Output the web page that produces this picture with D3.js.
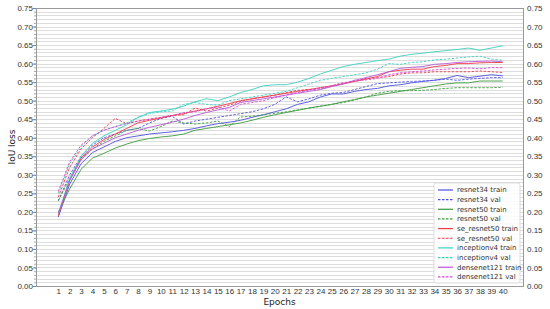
<!DOCTYPE html>
<html>
<head>
<meta charset="utf-8">
<script src="https://cdn.jsdelivr.net/npm/d3@7"></script>
<style>
  body { margin: 0; background: #fff; }
  svg { font-family: "DejaVu Sans", sans-serif; }
</style>
</head>
<body>
<div class="container"></div>
<script>
"use strict";

// epochs 1..40
const epochs = d3.range(1, 41)

// IoU per epoch
const resnet34Train = [0.186, 0.275, 0.330, 0.360, 0.375, 0.390, 0.400, 0.405, 0.410, 0.413, 0.416, 0.420, 0.425, 0.432, 0.438, 0.442, 0.447, 0.455, 0.462, 0.470, 0.478, 0.490, 0.497, 0.510, 0.518, 0.518, 0.525, 0.530, 0.533, 0.540, 0.543, 0.548, 0.552, 0.555, 0.560, 0.568, 0.562, 0.566, 0.570, 0.567]
const resnet34Val = [0.230, 0.300, 0.350, 0.380, 0.400, 0.410, 0.420, 0.425, 0.440, 0.452, 0.458, 0.437, 0.445, 0.450, 0.455, 0.460, 0.465, 0.470, 0.478, 0.490, 0.510, 0.497, 0.505, 0.515, 0.520, 0.522, 0.530, 0.538, 0.546, 0.548, 0.550, 0.552, 0.553, 0.555, 0.558, 0.555, 0.558, 0.560, 0.562, 0.562]
const resnet50Train = [0.200, 0.262, 0.315, 0.345, 0.358, 0.372, 0.383, 0.392, 0.398, 0.402, 0.405, 0.410, 0.420, 0.425, 0.430, 0.435, 0.440, 0.447, 0.455, 0.462, 0.468, 0.474, 0.480, 0.485, 0.490, 0.497, 0.503, 0.510, 0.515, 0.520, 0.525, 0.530, 0.535, 0.540, 0.545, 0.548, 0.548, 0.553, 0.553, 0.553]
const resnet50Val = [0.230, 0.290, 0.345, 0.370, 0.390, 0.405, 0.420, 0.425, 0.418, 0.430, 0.445, 0.440, 0.437, 0.440, 0.445, 0.430, 0.456, 0.458, 0.462, 0.466, 0.470, 0.475, 0.480, 0.485, 0.490, 0.495, 0.502, 0.510, 0.520, 0.525, 0.527, 0.527, 0.528, 0.530, 0.533, 0.535, 0.535, 0.535, 0.535, 0.536]
const seResnet50Train = [0.190, 0.285, 0.345, 0.375, 0.395, 0.410, 0.425, 0.440, 0.447, 0.453, 0.460, 0.465, 0.472, 0.478, 0.485, 0.492, 0.500, 0.505, 0.510, 0.515, 0.520, 0.525, 0.530, 0.535, 0.540, 0.545, 0.552, 0.558, 0.565, 0.578, 0.582, 0.585, 0.585, 0.592, 0.595, 0.600, 0.600, 0.602, 0.603, 0.603]
const seResnet50Val = [0.240, 0.320, 0.370, 0.400, 0.425, 0.452, 0.438, 0.445, 0.450, 0.455, 0.460, 0.462, 0.480, 0.472, 0.480, 0.488, 0.498, 0.505, 0.510, 0.515, 0.522, 0.528, 0.530, 0.532, 0.540, 0.548, 0.552, 0.560, 0.562, 0.565, 0.572, 0.575, 0.575, 0.578, 0.578, 0.578, 0.578, 0.580, 0.578, 0.576]
const inceptionTrain = [0.195, 0.290, 0.350, 0.385, 0.405, 0.420, 0.435, 0.455, 0.468, 0.472, 0.477, 0.485, 0.497, 0.505, 0.500, 0.510, 0.522, 0.530, 0.540, 0.543, 0.543, 0.550, 0.560, 0.572, 0.582, 0.592, 0.598, 0.603, 0.608, 0.612, 0.620, 0.625, 0.628, 0.632, 0.635, 0.638, 0.642, 0.636, 0.642, 0.648]
const inceptionVal = [0.250, 0.330, 0.375, 0.405, 0.420, 0.430, 0.440, 0.455, 0.465, 0.470, 0.472, 0.490, 0.495, 0.490, 0.488, 0.500, 0.505, 0.510, 0.515, 0.520, 0.525, 0.535, 0.545, 0.555, 0.560, 0.565, 0.570, 0.575, 0.585, 0.600, 0.598, 0.603, 0.605, 0.610, 0.612, 0.615, 0.618, 0.620, 0.612, 0.609]
const densenetTrain = [0.195, 0.285, 0.340, 0.370, 0.385, 0.400, 0.410, 0.420, 0.428, 0.435, 0.442, 0.450, 0.460, 0.468, 0.475, 0.482, 0.495, 0.500, 0.505, 0.510, 0.515, 0.520, 0.525, 0.530, 0.538, 0.545, 0.555, 0.562, 0.570, 0.578, 0.587, 0.590, 0.592, 0.598, 0.600, 0.603, 0.605, 0.606, 0.607, 0.605]
const densenetVal = [0.255, 0.335, 0.380, 0.405, 0.420, 0.430, 0.438, 0.445, 0.450, 0.455, 0.460, 0.468, 0.470, 0.478, 0.483, 0.472, 0.490, 0.495, 0.500, 0.508, 0.515, 0.522, 0.528, 0.535, 0.540, 0.548, 0.553, 0.556, 0.560, 0.570, 0.575, 0.578, 0.580, 0.583, 0.585, 0.587, 0.588, 0.586, 0.589, 0.589]

const seriesNames = ['resnet34 train', 'resnet34 val', 'resnet50 train', 'resnet50 val', 'se_resnet50 train', 'se_resnet50 val', 'inceptionv4 train', 'inceptionv4 val', 'densenet121 train', 'densenet121 val']
const seriesValues = [resnet34Train, resnet34Val, resnet50Train, resnet50Val, seResnet50Train, seResnet50Val, inceptionTrain, inceptionVal, densenetTrain, densenetVal]
const yTicks = d3.range(0, 0.7501, 0.05)

// look of each series
const colors = ['#5050e0', '#5050e0', '#3f9a3f', '#3f9a3f', '#f03848', '#f03848', '#3ccfbf', '#3ccfbf', '#b858d8', '#d848d8']
const dashes = [null, '2.5,1.5', null, '2.5,1.5', null, '2.5,1.5', null, '2.5,1.5', null, '2.5,1.5']

const W = 550, H = 309
const plot = { left: 36, right: 523, top: 8, bottom: 286 }

const svg = d3.select('.container').append('svg')
	.attr('width', W)
	.attr('height', H)

// 1 -> 58.3, 40 -> 502.7
const x = d3.scaleLinear().domain([1, 40]).range([58.3, 502.7])
const y = d3.scaleLinear().domain([0, 0.75]).range([plot.bottom, plot.top])

// light horizontal grid every 0.01
svg.append('g')
	.selectAll('line')
	.data(d3.range(1, 75))
	.join('line')
	.attr('x1', plot.left)
	.attr('x2', plot.right)
	.attr('y1', d => Math.round(y(d / 100)) + 0.5)
	.attr('y2', d => Math.round(y(d / 100)) + 0.5)
	.attr('stroke', '#dddddd')
	.attr('stroke-width', 1)

// left axis with minor ticks
const leftMinor = d3.axisLeft(y).tickValues(d3.range(0, 0.7501, 0.01)).tickSize(2).tickFormat('')
svg.append('g').attr('transform', `translate(${plot.left},0)`).call(leftMinor)
	.call(g => g.select('.domain').remove())
	.selectAll('line').attr('stroke', '#aaa')

const leftAxis = d3.axisLeft(y).tickValues(yTicks).tickSize(3).tickFormat(d3.format('.2f'))
svg.append('g').attr('transform', `translate(${plot.left},0)`).call(leftAxis)
	.call(g => g.select('.domain').remove())
	.call(g => g.selectAll('line').attr('stroke', '#888'))
	.call(g => g.selectAll('text').attr('font-size', 8).attr('fill', '#333').attr('x', -3))

const rightAxis = d3.axisRight(y).tickValues(yTicks).tickSize(0).tickFormat(d3.format('.2f'))
svg.append('g').attr('transform', `translate(${plot.right},0)`).call(rightAxis)
	.call(g => g.select('.domain').remove())
	.call(g => g.selectAll('text').attr('font-size', 8).attr('fill', '#333').attr('x', 4))

const bottomAxis = d3.axisBottom(x).tickValues(epochs).tickSize(0).tickFormat(d3.format('d'))
svg.append('g').attr('transform', `translate(0,${plot.bottom})`).call(bottomAxis)
	.call(g => g.select('.domain').remove())
	.call(g => g.selectAll('text').attr('font-size', 8).attr('fill', '#333').attr('y', 2))

// frame
svg.append('rect')
	.attr('x', plot.left + 0.5)
	.attr('y', plot.top + 0.5)
	.attr('width', plot.right - plot.left)
	.attr('height', plot.bottom - plot.top)
	.attr('fill', 'none')
	.attr('stroke', '#999')
	.attr('stroke-width', 1)

// axis titles
svg.append('text')
	.attr('x', (plot.left + plot.right) / 2)
	.attr('y', 305)
	.attr('text-anchor', 'middle')
	.attr('font-size', 9)
	.attr('fill', '#222')
	.text('Epochs')

svg.append('text')
	.attr('transform', `translate(15,${(plot.top + plot.bottom) / 2}) rotate(-90)`)
	.attr('text-anchor', 'middle')
	.attr('font-size', 9)
	.attr('fill', '#222')
	.text('IoU loss')

// series lines
const line = d3.line().x((d, i) => x(epochs[i])).y(d => y(d))

seriesValues.forEach(function(vals, i) {
	svg.append('path')
		.datum(vals)
		.attr('d', line)
		.attr('fill', 'none')
		.attr('stroke', colors[i])
		.attr('stroke-width', 1)
		.attr('stroke-dasharray', dashes[i])
		.attr('opacity', 0.9)
})

// legend box in the lower right
const lg = svg.append('g').attr('transform', 'translate(434,183)')
lg.append('rect')
	.attr('width', 86)
	.attr('height', 100)
	.attr('rx', 2)
	.attr('fill', '#fff')
	.attr('fill-opacity', 0.85)
	.attr('stroke', '#ddd')

seriesNames.forEach(function(name, i) {
	const ly = 7 + i * 9.65
	lg.append('line')
		.attr('x1', 4).attr('x2', 19)
		.attr('y1', ly).attr('y2', ly)
		.attr('stroke', colors[i])
		.attr('stroke-width', 1.2)
		.attr('stroke-dasharray', dashes[i])
	lg.append('text')
		.attr('x', 23)
		.attr('y', ly)
		.attr('dy', '0.35em')
		.attr('font-size', 7)
		.attr('fill', '#333')
		.text(name)
})
</script>
</body>
</html>
